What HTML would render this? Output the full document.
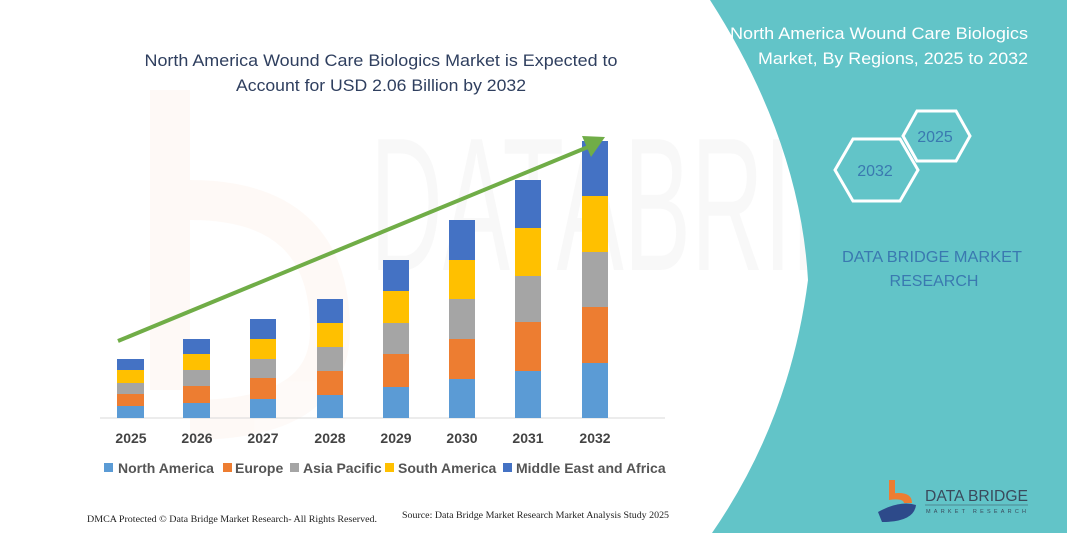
<!DOCTYPE html>
<html><head><meta charset="utf-8"><style>
html,body{margin:0;padding:0;background:#fff;}
svg{display:block;}
</style></head><body>
<svg width="1067" height="533" viewBox="0 0 1067 533" xmlns="http://www.w3.org/2000/svg" font-family="Liberation Sans, sans-serif">
<rect width="1067" height="533" fill="#fff"/>
<!-- faint watermark -->
<g opacity="0.035">
<rect x="150" y="90" width="40" height="300" fill="#ed7d31"/>
<path d="M190 200 Q330 200 330 330 Q330 420 190 420" fill="none" stroke="#ed7d31" stroke-width="40"/>
<text x="370" y="270" font-size="190" fill="#555" textLength="640" lengthAdjust="spacingAndGlyphs">DATABRIDGE</text>
</g>
<!-- teal panel -->
<path d="M710 0 L1067 0 L1067 533 L712 533 Q790 420 808 280 Q800 140 710 0 Z" fill="#62c4c8"/>
<!-- axis -->
<line x1="100" y1="418" x2="665" y2="418" stroke="#d9d9d9" stroke-width="1"/>
<g id="bars">
<rect x="117" y="406" width="27" height="12" fill="#5b9bd5"/><rect x="117" y="394" width="27" height="12" fill="#ed7d31"/><rect x="117" y="383" width="27" height="11" fill="#a5a5a5"/><rect x="117" y="370" width="27" height="13" fill="#ffc000"/><rect x="117" y="359" width="27" height="11" fill="#4472c4"/>
<rect x="183" y="403" width="27" height="15" fill="#5b9bd5"/><rect x="183" y="386" width="27" height="17" fill="#ed7d31"/><rect x="183" y="370" width="27" height="16" fill="#a5a5a5"/><rect x="183" y="354" width="27" height="16" fill="#ffc000"/><rect x="183" y="339" width="27" height="15" fill="#4472c4"/>
<rect x="250" y="399" width="26" height="19" fill="#5b9bd5"/><rect x="250" y="378" width="26" height="21" fill="#ed7d31"/><rect x="250" y="359" width="26" height="19" fill="#a5a5a5"/><rect x="250" y="339" width="26" height="20" fill="#ffc000"/><rect x="250" y="319" width="26" height="20" fill="#4472c4"/>
<rect x="317" y="395" width="26" height="23" fill="#5b9bd5"/><rect x="317" y="371" width="26" height="24" fill="#ed7d31"/><rect x="317" y="347" width="26" height="24" fill="#a5a5a5"/><rect x="317" y="323" width="26" height="24" fill="#ffc000"/><rect x="317" y="299" width="26" height="24" fill="#4472c4"/>
<rect x="383" y="387" width="26" height="31" fill="#5b9bd5"/><rect x="383" y="354" width="26" height="33" fill="#ed7d31"/><rect x="383" y="323" width="26" height="31" fill="#a5a5a5"/><rect x="383" y="291" width="26" height="32" fill="#ffc000"/><rect x="383" y="260" width="26" height="31" fill="#4472c4"/>
<rect x="449" y="379" width="26" height="39" fill="#5b9bd5"/><rect x="449" y="339" width="26" height="40" fill="#ed7d31"/><rect x="449" y="299" width="26" height="40" fill="#a5a5a5"/><rect x="449" y="260" width="26" height="39" fill="#ffc000"/><rect x="449" y="220" width="26" height="40" fill="#4472c4"/>
<rect x="515" y="371" width="26" height="47" fill="#5b9bd5"/><rect x="515" y="322" width="26" height="49" fill="#ed7d31"/><rect x="515" y="276" width="26" height="46" fill="#a5a5a5"/><rect x="515" y="228" width="26" height="48" fill="#ffc000"/><rect x="515" y="180" width="26" height="48" fill="#4472c4"/>
<rect x="582" y="363" width="26" height="55" fill="#5b9bd5"/><rect x="582" y="307" width="26" height="56" fill="#ed7d31"/><rect x="582" y="252" width="26" height="55" fill="#a5a5a5"/><rect x="582" y="196" width="26" height="56" fill="#ffc000"/><rect x="582" y="141" width="26" height="55" fill="#4472c4"/>
</g>
<!-- arrow -->
<line x1="118" y1="341" x2="588" y2="147" stroke="#70ad47" stroke-width="4"/>
<polygon points="605,137 582,136 591,157" fill="#70ad47"/>
<!-- title -->
<g fill="#2f3f5f" font-size="17" text-anchor="middle">
<text x="381" y="66" textLength="473" lengthAdjust="spacingAndGlyphs">North America Wound Care Biologics Market is Expected to</text>
<text x="381" y="91" textLength="290" lengthAdjust="spacingAndGlyphs">Account for USD 2.06 Billion by 2032</text>
</g>
<!-- years -->
<g fill="#444" font-size="14" font-weight="bold" text-anchor="middle">
<text x="131" y="443">2025</text><text x="197" y="443">2026</text><text x="263" y="443">2027</text><text x="330" y="443">2028</text><text x="396" y="443">2029</text><text x="462" y="443">2030</text><text x="528" y="443">2031</text><text x="595" y="443">2032</text>
</g>
<!-- legend -->
<g font-size="14" font-weight="bold" fill="#555">
<rect x="104" y="463" width="9" height="9" fill="#5b9bd5"/><text x="118" y="473">North America</text>
<rect x="223" y="463" width="9" height="9" fill="#ed7d31"/><text x="235" y="473">Europe</text>
<rect x="290" y="463" width="9" height="9" fill="#a5a5a5"/><text x="303" y="473">Asia Pacific</text>
<rect x="385" y="463" width="9" height="9" fill="#ffc000"/><text x="398" y="473">South America</text>
<rect x="503" y="463" width="9" height="9" fill="#4472c4"/><text x="516" y="473">Middle East and Africa</text>
</g>
<!-- footer -->
<g font-family="Liberation Serif, serif" font-size="9.5" fill="#222">
<text x="87" y="522" textLength="290" lengthAdjust="spacingAndGlyphs">DMCA Protected © Data Bridge Market Research-  All Rights Reserved.</text>
<text x="402" y="518" textLength="267" lengthAdjust="spacingAndGlyphs">Source: Data Bridge Market Research  Market Analysis Study 2025</text>
</g>
<!-- right panel text -->
<g fill="#fff" font-size="17" text-anchor="end">
<text x="1028" y="39" textLength="298" lengthAdjust="spacingAndGlyphs">North America Wound Care Biologics</text>
<text x="1028" y="64" textLength="270" lengthAdjust="spacingAndGlyphs">Market, By Regions, 2025 to 2032</text>
</g>
<polygon points="903,136 917,111 956,111 970,136 956,161 917,161" fill="none" stroke="#fff" stroke-width="3"/>
<polygon points="835,170 853,139 900,139 918,170 900,201 853,201" fill="none" stroke="#fff" stroke-width="3"/>
<text x="935" y="142" font-size="16" fill="#3a79b0" text-anchor="middle">2025</text>
<text x="875" y="176" font-size="16" fill="#3a79b0" text-anchor="middle">2032</text>
<g fill="#3a79b0" font-size="16" text-anchor="middle">
<text x="932" y="262" textLength="180" lengthAdjust="spacingAndGlyphs">DATA BRIDGE MARKET</text>
<text x="934" y="286">RESEARCH</text>
</g>
<!-- logo -->
<rect x="889" y="480" width="6" height="14" fill="#ed7d31"/>
<path d="M889 494 Q912 490 912 503 L904 503 Q903 498 889 500 Z" fill="#ed7d31"/>
<path d="M878 512 Q900 500 916 505 Q914 522 882 522 Z" fill="#2d4a8a"/>
<text x="925" y="501" font-size="16" fill="#3a4a5c" textLength="103" lengthAdjust="spacingAndGlyphs">DATA BRIDGE</text>
<line x1="925" y1="505" x2="1028" y2="505" stroke="#3a4a5c" stroke-width="0.6"/>
<text x="926" y="513" font-size="5.5" fill="#3a4a5c" textLength="100" lengthAdjust="spacing">MARKET RESEARCH</text>
</svg>
</body></html>
